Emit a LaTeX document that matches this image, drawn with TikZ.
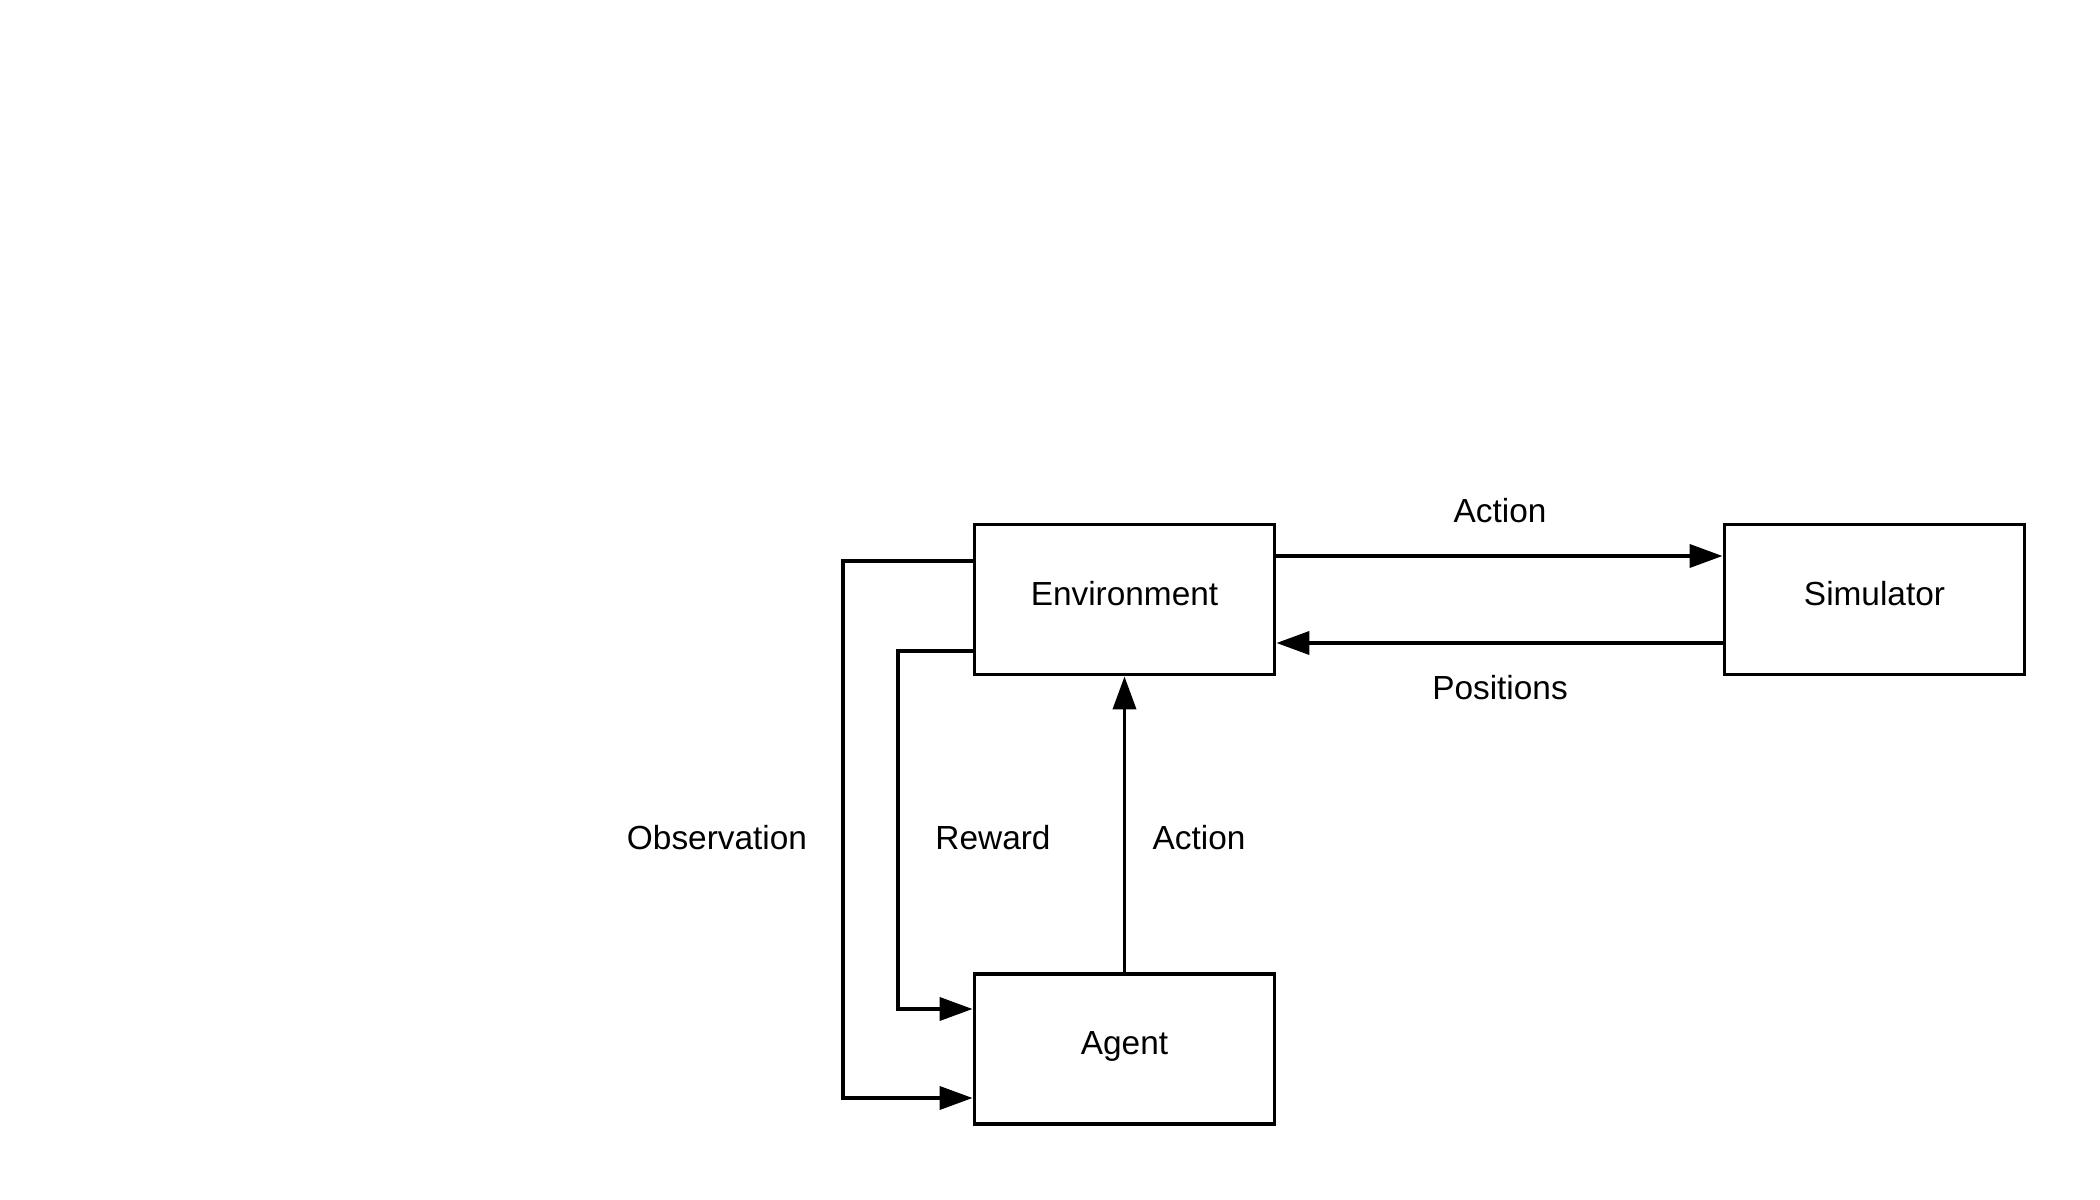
\documentclass[tikz,border=0pt]{standalone}
\usepackage{fontspec}
\setmainfont{Liberation Sans}
\usetikzlibrary{arrows.meta}

\tikzset{
  block/.style={draw, line width=1.1pt, minimum width=3cm, minimum height=1.5cm, text depth=0.12cm, font=\fontsize{9.5}{11}\selectfont},
  flow/.style={line width=1.1pt, -{Triangle[length=0.33cm, width=0.23cm]}},
  lbl/.style={font=\fontsize{9.5}{11}\selectfont}
}

\begin{document}
\begin{tikzpicture}
\useasboundingbox (0,0) rectangle (21,12);

\node [block] (env) at (11.245,6.005) {Environment};
\node [block] (sim) at (18.745,6.005) {Simulator};
\node [block] (agent) at (11.245,1.51) {Agent};

% environment <-> simulator
\draw [flow] ([yshift=0.435cm]env.east) -- ([yshift=0.435cm]sim.west);
\node [lbl] (actsim) at (15,6.89) {Action};

\draw [flow] ([yshift=-0.435cm]sim.west) -- ([yshift=-0.435cm]env.east);
\node [lbl] (pos) at (15,5.12) {Positions};

% agent -> environment
\draw [flow] (agent.north) -- (env.south);
\node [lbl] (actenv) at (11.99,3.62) {Action};

% environment -> agent
\draw [flow] ([yshift=-0.515cm]env.west) -| (8.98,3) |- ([yshift=0.4cm]agent.west);
\node [lbl] (rew) at (9.93,3.62) {Reward};

\draw [flow] ([yshift=0.385cm]env.west) -| (8.43,3) |- ([yshift=-0.49cm]agent.west);
\node [lbl] (obs) at (7.17,3.62) {Observation};

\end{tikzpicture}
\end{document}
